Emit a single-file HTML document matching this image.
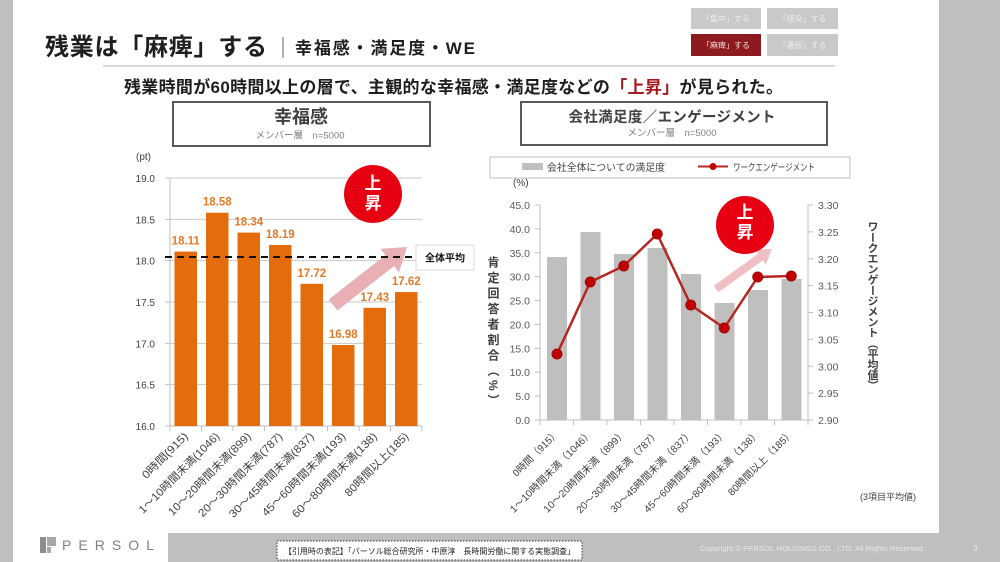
<!DOCTYPE html>
<html><head><meta charset="utf-8">
<style>
html,body{margin:0;padding:0;width:1000px;height:562px;overflow:hidden;background:#fff}
.wrap{position:relative;width:1000px;height:562px;overflow:hidden}
svg{position:absolute;left:0;top:0}
text{font-family:"Liberation Sans","Noto Sans CJK JP",sans-serif}
.v{position:absolute;writing-mode:vertical-rl;font-family:"Liberation Sans","Noto Sans CJK JP",sans-serif;font-weight:bold;color:#404040;white-space:nowrap}
</style></head><body><div class="wrap">
<svg width="1000" height="562" viewBox="0 0 1000 562">
<!-- frame -->
<rect x="0" y="0" width="13" height="562" fill="#bfbfbf"/>
<rect x="168" y="533" width="832" height="29" fill="#bfbfbf"/>
<rect x="939" y="0" width="61" height="562" fill="#bfbfbf"/>

<!-- header -->
<text x="45" y="55" font-size="24" font-weight="bold" fill="#1e1e1e" textLength="222" lengthAdjust="spacing">残業は「麻痺」する</text>
<line x1="283" y1="37" x2="283" y2="58" stroke="#666" stroke-width="1"/>
<text x="295" y="54" font-size="17" font-weight="bold" fill="#1e1e1e" textLength="180" lengthAdjust="spacing">幸福感・満足度・WE</text>
<line x1="103" y1="66" x2="835" y2="66" stroke="#d9d9d9" stroke-width="2"/>

<rect x="691" y="8" width="70" height="21" fill="#c9c9c9"/>
<text x="726" y="21.5" font-size="8" fill="#ededed" text-anchor="middle">「集中」する</text>
<rect x="767" y="8" width="71" height="21" fill="#c9c9c9"/>
<text x="802.5" y="21.5" font-size="8" fill="#ededed" text-anchor="middle">「感染」する</text>
<rect x="691" y="34" width="70" height="22" fill="#8c1a1e"/>
<text x="726" y="48" font-size="8" fill="#f3dada" text-anchor="middle">「麻痺」する</text>
<rect x="767" y="34" width="71" height="22" fill="#c9c9c9"/>
<text x="802.5" y="48" font-size="8" fill="#ededed" text-anchor="middle">「遺伝」する</text>

<text x="124" y="93" font-size="17" font-weight="bold" fill="#1e1e1e" textLength="659" lengthAdjust="spacing">残業時間が60時間以上の層で、主観的な幸福感・満足度などの<tspan fill="#a5191e">「上昇」</tspan>が見られた。</text>

<!-- LEFT CHART -->
<rect x="173" y="102" width="257" height="44" fill="#fff" stroke="#595959" stroke-width="2"/>
<text x="301" y="123" font-size="18" font-weight="bold" fill="#404040" text-anchor="middle">幸福感</text>
<text x="300" y="138.5" font-size="9.5" fill="#808080" text-anchor="middle">メンバー層　n=5000</text>
<text x="136" y="160" font-size="10" fill="#404040">(pt)</text>

<g stroke="#c8c8c8" stroke-width="1">
<line x1="170" y1="178" x2="422" y2="178"/>
<line x1="170" y1="219.33" x2="422" y2="219.33"/>
<line x1="170" y1="260.67" x2="422" y2="260.67"/>
<line x1="170" y1="302" x2="422" y2="302"/>
<line x1="170" y1="343.33" x2="422" y2="343.33"/>
<line x1="170" y1="384.67" x2="422" y2="384.67"/>
</g>
<g stroke="#bfbfbf" stroke-width="1">
<line x1="170" y1="178" x2="170" y2="426"/>
<line x1="170" y1="426" x2="422" y2="426"/>
<line x1="165" y1="178" x2="170" y2="178"/>
<line x1="165" y1="219.33" x2="170" y2="219.33"/>
<line x1="165" y1="260.67" x2="170" y2="260.67"/>
<line x1="165" y1="302" x2="170" y2="302"/>
<line x1="165" y1="343.33" x2="170" y2="343.33"/>
<line x1="165" y1="384.67" x2="170" y2="384.67"/>
<line x1="165" y1="426" x2="170" y2="426"/>
<line x1="170" y1="426" x2="170" y2="431"/>
<line x1="201.5" y1="426" x2="201.5" y2="431"/>
<line x1="233" y1="426" x2="233" y2="431"/>
<line x1="264.5" y1="426" x2="264.5" y2="431"/>
<line x1="296" y1="426" x2="296" y2="431"/>
<line x1="327.5" y1="426" x2="327.5" y2="431"/>
<line x1="359" y1="426" x2="359" y2="431"/>
<line x1="390.5" y1="426" x2="390.5" y2="431"/>
<line x1="422" y1="426" x2="422" y2="431"/>
</g>
<g font-size="10" fill="#404040" text-anchor="end">
<text x="155" y="182">19.0</text>
<text x="155" y="223.3">18.5</text>
<text x="155" y="264.7">18.0</text>
<text x="155" y="306">17.5</text>
<text x="155" y="347.3">17.0</text>
<text x="155" y="388.7">16.5</text>
<text x="155" y="430">16.0</text>
</g>

<g fill="#e46c0a">
<rect x="174.5" y="251.6" width="22.5" height="174.4"/>
<rect x="206" y="212.7" width="22.5" height="213.3"/>
<rect x="237.5" y="232.6" width="22.5" height="193.4"/>
<rect x="269" y="245" width="22.5" height="181"/>
<rect x="300.5" y="283.8" width="22.5" height="142.2"/>
<rect x="332" y="345" width="22.5" height="81"/>
<rect x="363.5" y="307.8" width="22.5" height="118.2"/>
<rect x="395" y="292.1" width="22.5" height="133.9"/>
</g>

<!-- left arrow -->
<polygon points="337.3,310.5 394,266.1 399,272.4 407,247 380.4,248.8 385.4,255.1 328.7,299.5" fill="#e8b0b4"/>

<line x1="165" y1="257" x2="416" y2="257" stroke="#111" stroke-width="2" stroke-dasharray="7 5"/>

<g font-size="11.5" font-weight="bold" fill="#e27b27" text-anchor="middle" font-family="Liberation Sans, sans-serif">
<text x="185.75" y="244.6">18.11</text>
<text x="217.25" y="205.7">18.58</text>
<text x="248.75" y="225.6">18.34</text>
<text x="280.25" y="238">18.19</text>
<text x="311.75" y="276.8">17.72</text>
<text x="343.25" y="338">16.98</text>
<text x="374.75" y="300.8">17.43</text>
<text x="406.25" y="285.1">17.62</text>
</g>

<rect x="416" y="245" width="58" height="25" fill="#fff" stroke="#d9d9d9" stroke-width="1"/>
<text x="445" y="261.5" font-size="10" font-weight="bold" fill="#111" text-anchor="middle">全体平均</text>

<circle cx="373" cy="194" r="29" fill="#e60012"/>
<text x="373" y="189" font-size="17" font-weight="bold" fill="#fff" text-anchor="middle">上</text>
<text x="373" y="209" font-size="17" font-weight="bold" fill="#fff" text-anchor="middle">昇</text>

<g font-size="11" fill="#404040" text-anchor="end">
<text x="188.75" y="437" transform="rotate(-45 188.75 437)" textLength="60" lengthAdjust="spacingAndGlyphs">0時間(915)</text>
<text x="220.25" y="437" transform="rotate(-45 220.25 437)" textLength="109" lengthAdjust="spacingAndGlyphs">1～10時間未満(1046)</text>
<text x="251.75" y="437" transform="rotate(-45 251.75 437)" textLength="112" lengthAdjust="spacingAndGlyphs">10～20時間未満(899)</text>
<text x="283.25" y="437" transform="rotate(-45 283.25 437)" textLength="114" lengthAdjust="spacingAndGlyphs">20～30時間未満(787)</text>
<text x="314.75" y="437" transform="rotate(-45 314.75 437)" textLength="115" lengthAdjust="spacingAndGlyphs">30～45時間未満(837)</text>
<text x="346.25" y="437" transform="rotate(-45 346.25 437)" textLength="113" lengthAdjust="spacingAndGlyphs">45～60時間未満(193)</text>
<text x="377.75" y="437" transform="rotate(-45 377.75 437)" textLength="115" lengthAdjust="spacingAndGlyphs">60～80時間未満(138)</text>
<text x="409.25" y="437" transform="rotate(-45 409.25 437)" textLength="85" lengthAdjust="spacingAndGlyphs">80時間以上(185)</text>
</g>

<!-- RIGHT CHART -->
<rect x="521" y="102" width="306" height="43" fill="#fff" stroke="#595959" stroke-width="2"/>
<text x="672" y="122" font-size="14.5" font-weight="bold" fill="#404040" text-anchor="middle" textLength="207" lengthAdjust="spacing">会社満足度／エンゲージメント</text>
<text x="672" y="136" font-size="9.5" fill="#808080" text-anchor="middle">メンバー層　n=5000</text>

<rect x="490" y="157" width="360" height="21" fill="#fff" stroke="#bfbfbf" stroke-width="1"/>
<rect x="522" y="163" width="21" height="7" fill="#bfbfbf"/>
<text x="547" y="171" font-size="10" fill="#404040" textLength="118" lengthAdjust="spacingAndGlyphs">会社全体についての満足度</text>
<line x1="698" y1="166.5" x2="728" y2="166.5" stroke="#b5271f" stroke-width="2"/>
<circle cx="713" cy="166.5" r="3.5" fill="#c00000"/>
<text x="733" y="171" font-size="10" fill="#404040" textLength="82" lengthAdjust="spacingAndGlyphs">ワークエンゲージメント</text>

<text x="513" y="186" font-size="10" fill="#404040">(%)</text>

<g fill="#bfbfbf">
<rect x="547" y="257" width="20" height="163"/>
<rect x="580.5" y="232" width="20" height="188"/>
<rect x="614" y="254" width="20" height="166"/>
<rect x="647.5" y="248" width="20" height="172"/>
<rect x="681" y="274" width="20" height="146"/>
<rect x="714.5" y="303" width="20" height="117"/>
<rect x="748" y="290" width="20" height="130"/>
<rect x="781.5" y="279" width="20" height="141"/>
</g>

<g stroke="#bfbfbf" stroke-width="1">
<line x1="540" y1="205" x2="540" y2="420"/>
<line x1="808" y1="205" x2="808" y2="420"/>
<line x1="540" y1="420" x2="808" y2="420"/>
<line x1="535" y1="205" x2="540" y2="205"/>
<line x1="535" y1="228.89" x2="540" y2="228.89"/>
<line x1="535" y1="252.78" x2="540" y2="252.78"/>
<line x1="535" y1="276.67" x2="540" y2="276.67"/>
<line x1="535" y1="300.56" x2="540" y2="300.56"/>
<line x1="535" y1="324.44" x2="540" y2="324.44"/>
<line x1="535" y1="348.33" x2="540" y2="348.33"/>
<line x1="535" y1="372.22" x2="540" y2="372.22"/>
<line x1="535" y1="396.11" x2="540" y2="396.11"/>
<line x1="535" y1="420" x2="540" y2="420"/>
<line x1="808" y1="205" x2="813" y2="205"/>
<line x1="808" y1="231.875" x2="813" y2="231.875"/>
<line x1="808" y1="258.75" x2="813" y2="258.75"/>
<line x1="808" y1="285.625" x2="813" y2="285.625"/>
<line x1="808" y1="312.5" x2="813" y2="312.5"/>
<line x1="808" y1="339.375" x2="813" y2="339.375"/>
<line x1="808" y1="366.25" x2="813" y2="366.25"/>
<line x1="808" y1="393.125" x2="813" y2="393.125"/>
<line x1="808" y1="420" x2="813" y2="420"/>
<line x1="540" y1="420" x2="540" y2="425"/>
<line x1="573.5" y1="420" x2="573.5" y2="425"/>
<line x1="607" y1="420" x2="607" y2="425"/>
<line x1="640.5" y1="420" x2="640.5" y2="425"/>
<line x1="674" y1="420" x2="674" y2="425"/>
<line x1="707.5" y1="420" x2="707.5" y2="425"/>
<line x1="741" y1="420" x2="741" y2="425"/>
<line x1="774.5" y1="420" x2="774.5" y2="425"/>
<line x1="808" y1="420" x2="808" y2="425"/>
</g>

<g font-size="10.5" fill="#595959" text-anchor="end">
<text x="530" y="209">45.0</text>
<text x="530" y="232.9">40.0</text>
<text x="530" y="256.8">35.0</text>
<text x="530" y="280.7">30.0</text>
<text x="530" y="304.6">25.0</text>
<text x="530" y="328.4">20.0</text>
<text x="530" y="352.3">15.0</text>
<text x="530" y="376.2">10.0</text>
<text x="530" y="400.1">5.0</text>
<text x="530" y="424">0.0</text>
</g>
<g font-size="10.5" fill="#595959">
<text x="818" y="209">3.30</text>
<text x="818" y="235.9">3.25</text>
<text x="818" y="262.8">3.20</text>
<text x="818" y="289.6">3.15</text>
<text x="818" y="316.5">3.10</text>
<text x="818" y="343.4">3.05</text>
<text x="818" y="370.3">3.00</text>
<text x="818" y="397.1">2.95</text>
<text x="818" y="424">2.90</text>
</g>

<polyline points="557,354 590.25,282 623.75,266 657.25,234 690.75,305 724.25,328 757.75,277 791.25,276" fill="none" stroke="#b5271f" stroke-width="2.5" stroke-linejoin="round"/>
<g fill="#c00000" stroke="#a00a0a" stroke-width="1">
<circle cx="557" cy="354" r="5"/>
<circle cx="590.25" cy="282" r="5"/>
<circle cx="623.75" cy="266" r="5"/>
<circle cx="657.25" cy="234" r="5"/>
<circle cx="690.75" cy="305" r="5"/>
<circle cx="724.25" cy="328" r="5"/>
<circle cx="757.75" cy="277" r="5"/>
<circle cx="791.25" cy="276" r="5"/>
</g>

<polygon points="718.3,292.3 762.9,260.4 765.8,264.4 772,249 755.4,249.8 758.3,253.8 713.7,285.7" fill="#f0bfc3"/>

<circle cx="745" cy="225" r="29" fill="#e60012"/>
<text x="745" y="218" font-size="17" font-weight="bold" fill="#fff" text-anchor="middle">上</text>
<text x="745" y="238" font-size="17" font-weight="bold" fill="#fff" text-anchor="middle">昇</text>

<g font-size="10" fill="#404040" text-anchor="end">
<text x="559.75" y="434" transform="rotate(-45 559.75 434)" textLength="61" lengthAdjust="spacingAndGlyphs">0時間（915）</text>
<text x="593.25" y="434" transform="rotate(-45 593.25 434)" textLength="112" lengthAdjust="spacingAndGlyphs">1～10時間未満（1046）</text>
<text x="626.75" y="434" transform="rotate(-45 626.75 434)" textLength="112" lengthAdjust="spacingAndGlyphs">10～20時間未満（899）</text>
<text x="660.25" y="434" transform="rotate(-45 660.25 434)" textLength="113" lengthAdjust="spacingAndGlyphs">20～30時間未満（787）</text>
<text x="693.75" y="434" transform="rotate(-45 693.75 434)" textLength="112" lengthAdjust="spacingAndGlyphs">30～45時間未満（837）</text>
<text x="727.25" y="434" transform="rotate(-45 727.25 434)" textLength="112" lengthAdjust="spacingAndGlyphs">45～60時間未満（193）</text>
<text x="760.75" y="434" transform="rotate(-45 760.75 434)" textLength="113" lengthAdjust="spacingAndGlyphs">60～80時間未満（138）</text>
<text x="794.25" y="434" transform="rotate(-45 794.25 434)" textLength="88" lengthAdjust="spacingAndGlyphs">80時間以上（185）</text>
</g>

<text x="860" y="500" font-size="9" fill="#404040">(3項目平均値)</text>

<!-- footer -->
<rect x="40" y="537" width="6" height="16" fill="#8c8c8c"/>
<rect x="47" y="537" width="9" height="9" fill="#a6a6a6"/>
<rect x="47" y="547" width="4" height="6" fill="#a6a6a6"/>
<text x="62" y="550" font-size="14" fill="#808080" textLength="92" lengthAdjust="spacing">PERSOL</text>

<rect x="277" y="541" width="305" height="19" fill="#fff" stroke="#333" stroke-width="1" stroke-dasharray="1.5 1.5"/>
<text x="284" y="554" font-size="8" fill="#222" textLength="291" lengthAdjust="spacingAndGlyphs">【引用時の表記】「パーソル総合研究所・中原淳　長時間労働に関する実態調査」</text>

<text x="700" y="551" font-size="7.5" fill="#e8e8e8" textLength="225" lengthAdjust="spacingAndGlyphs">Copyright © PERSOL HOLDINGS CO., LTD. All Rights Reserved.</text>
<text x="973" y="551" font-size="8" fill="#e8e8e8">3</text>
</svg>
<div class="v" style="left:486px;top:256px;font-size:12px;line-height:14px;letter-spacing:3.5px">肯定回答者割合（%）</div>
<div class="v" style="left:865px;top:221px;font-size:11px;line-height:13px;letter-spacing:-0.4px">ワークエンゲージメント（平均値）</div>
</div></body></html>
